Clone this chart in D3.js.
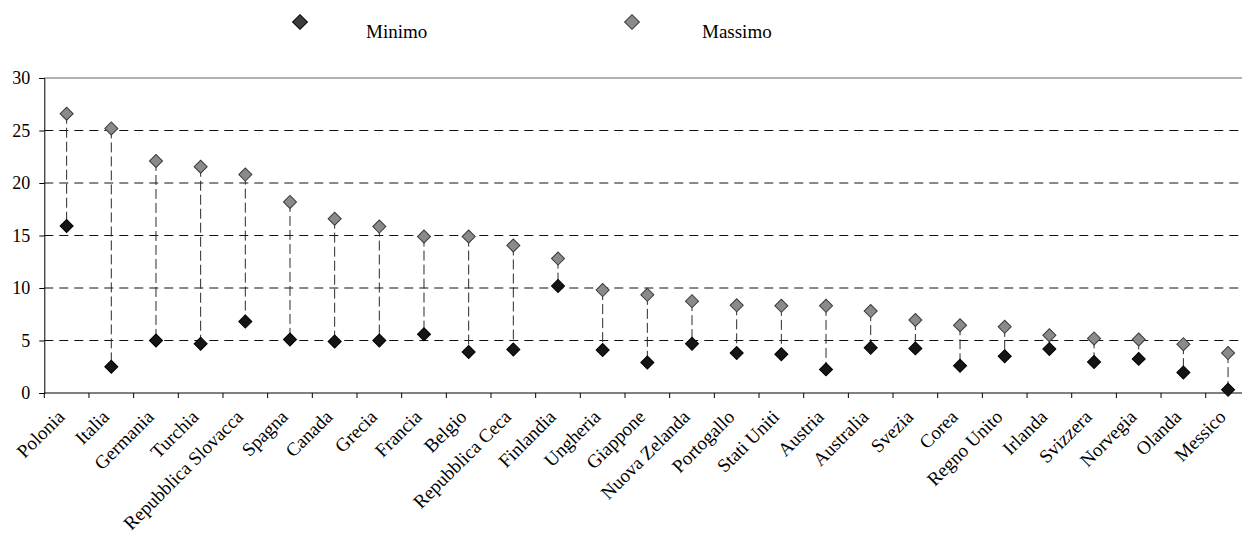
<!DOCTYPE html>
<html>
<head>
<meta charset="utf-8">
<script src="https://cdn.jsdelivr.net/npm/d3@7"></script>
<style>
  html, body { margin: 0; padding: 0; background: #fff; }
  svg { display: block; }
  text { font-family: "Liberation Serif", "Times New Roman", serif; fill: #000; }
</style>
</head>
<body>
<svg id="chart" width="1242" height="536"></svg>
<script>
// Paesi, in ordine decrescente di valore massimo
const paesi = ["Polonia", "Italia", "Germania", "Turchia", "Repubblica Slovacca", "Spagna",
  "Canada", "Grecia", "Francia", "Belgio", "Repubblica Ceca", "Finlandia", "Ungheria",
  "Giappone", "Nuova Zelanda", "Portogallo", "Stati Uniti", "Austria", "Australia",
  "Svezia", "Corea", "Regno Unito", "Irlanda", "Svizzera", "Norvegia", "Olanda", "Messico"];

const minimo = [15.9, 2.5, 5.0, 4.7, 6.8, 5.1, 4.9, 5.0, 5.6, 3.9, 4.15, 10.2, 4.1,
  2.9, 4.7, 3.8, 3.7, 2.25, 4.3, 4.25, 2.6, 3.5, 4.2, 2.95, 3.25, 1.95, 0.3];

const massimo = [26.6, 25.2, 22.1, 21.55, 20.8, 18.2, 16.6, 15.85, 14.9, 14.9, 14.05, 12.8, 9.8,
  9.35, 8.75, 8.35, 8.3, 8.3, 7.8, 6.95, 6.45, 6.3, 5.5, 5.2, 5.1, 4.65, 3.8];

const yTicks = [0, 5, 10, 15, 20, 25, 30];
const serie = ["Minimo", "Massimo"];

const svg = d3.select("#chart");

const mLeft = 44.3, mTop = 78, mBottom = 393, step = 44.67;
const x = d3.scaleBand().domain(paesi).range([mLeft, mLeft + step * paesi.length]).padding(0);
const y = d3.scaleLinear().domain([0, 30]).range([mBottom, mTop]);
const mRight = x.range()[1];
const cx = d => x(d) + x.bandwidth() / 2;

// griglia orizzontale tratteggiata
svg.append("g")
  .selectAll("line")
  .data(yTicks.filter(t => t > 0 && t < 30))
  .join("line")
  .attr("x1", mLeft).attr("x2", mRight)
  .attr("y1", d => y(d)).attr("y2", d => y(d))
  .attr("stroke", "#111").attr("stroke-width", 1)
  .attr("stroke-dasharray", "9,6");

// bordo superiore dell'area del grafico
svg.append("line")
  .attr("x1", mLeft).attr("x2", mRight)
  .attr("y1", y(30)).attr("y2", y(30))
  .attr("stroke", "#999").attr("stroke-width", 1.5);

// asse Y
const yAxis = svg.append("g")
  .attr("transform", `translate(${mLeft},0)`)
  .call(d3.axisLeft(y).tickValues(yTicks).tickSize(5).tickPadding(9).tickFormat(d3.format("d")));
yAxis.select(".domain").attr("stroke", "#000");
yAxis.selectAll(".tick line").attr("stroke", "#000");
yAxis.selectAll("text").style("font-size", "18px").style("font-family", "Liberation Serif");

// asse X: tacche ai confini delle categorie
const xAxis = svg.append("g").attr("transform", `translate(0,${mBottom})`);
xAxis.append("line").attr("x1", mLeft).attr("x2", mRight).attr("y1", 0).attr("y2", 0)
  .attr("stroke", "#000");
xAxis.selectAll("line.tacca")
  .data(paesi)
  .join("line")
  .attr("class", "tacca")
  .attr("x1", d => x(d)).attr("x2", d => x(d))
  .attr("y1", 0).attr("y2", 5)
  .attr("stroke", "#000");

// etichette ruotate
xAxis.selectAll("text")
  .data(paesi)
  .join("text")
  .attr("text-anchor", "end")
  .attr("transform", d => `translate(${cx(d) - 1},25) rotate(-45)`)
  .style("font-size", "19px")
  .text(d => d);

// linee alto-basso tra minimo e massimo
svg.append("g")
  .selectAll("line")
  .data(paesi)
  .join("line")
  .attr("x1", cx).attr("x2", cx)
  .attr("y1", (d, i) => y(massimo[i]))
  .attr("y2", (d, i) => y(minimo[i]))
  .attr("stroke", "#2a2a2a").attr("stroke-width", 1)
  .attr("stroke-dasharray", "10,4");

const rombo = d3.symbol().type(d3.symbolSquare).size(85);

function disegnaSerie(valori, fill, stroke) {
  svg.append("g")
    .selectAll("path")
    .data(paesi)
    .join("path")
    .attr("d", rombo)
    .attr("transform", (d, i) => `translate(${cx(d)},${y(valori[i])}) rotate(45)`)
    .attr("fill", fill)
    .attr("stroke", stroke)
    .attr("stroke-width", 1);
}
disegnaSerie(massimo, "#8a8a8a", "#3a3a3a");
disegnaSerie(minimo, "#151515", "#000");

// legenda
const legenda = [
  { nome: serie[0], fill: "#3c3c3c", stroke: "#000", xs: 300, xt: 366 },
  { nome: serie[1], fill: "#8a8a8a", stroke: "#3a3a3a", xs: 632, xt: 702 }
];
const leg = svg.append("g");
leg.selectAll("path")
  .data(legenda)
  .join("path")
  .attr("d", d3.symbol().type(d3.symbolSquare).size(110))
  .attr("transform", d => `translate(${d.xs},22) rotate(45)`)
  .attr("fill", d => d.fill)
  .attr("stroke", d => d.stroke);
leg.selectAll("text")
  .data(legenda)
  .join("text")
  .attr("x", d => d.xt)
  .attr("y", 38)
  .style("font-size", "19px")
  .text(d => d.nome);
</script>
</body>
</html>
